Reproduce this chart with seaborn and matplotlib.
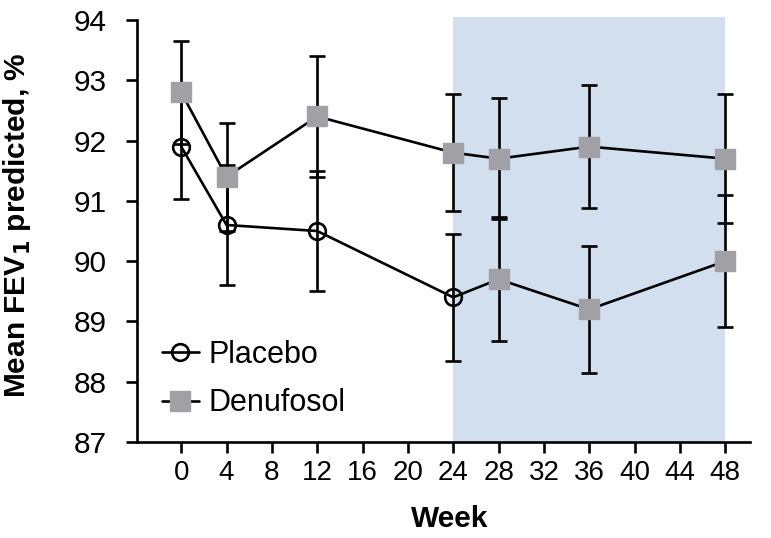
import matplotlib
matplotlib.use("Agg")
import matplotlib.pyplot as plt
import seaborn as sns
from matplotlib.lines import Line2D

weeks = [0, 4, 12, 24, 28, 36, 48]
denufosol_mean = [92.8, 91.4, 92.4, 91.8, 91.7, 91.9, 91.7]
denufosol_err = [0.85, 0.9, 1.0, 0.97, 1.0, 1.02, 1.07]
placebo_mean = [91.9, 90.6, 90.5, 89.4, 89.7, 89.2, 90.0]
placebo_err = [0.87, 1.0, 1.0, 1.05, 1.03, 1.05, 1.1]
# placebo arm switched to open-label denufosol after week 24
placebo_switch_week = 24
open_label = (24, 48)

sns.set_style("ticks")
plt.rcParams['font.family'] = ['Liberation Sans', 'DejaVu Sans']
plt.rcParams.update({'text.color': 'black', 'axes.labelcolor': 'black',
                     'xtick.color': 'black', 'ytick.color': 'black'})

grey = '#a1a1a5'
fig = plt.figure(figsize=(7.71, 5.38), dpi=100)
ax = fig.add_axes([0.1777, 0.1784, 0.7953, 0.7844])

ax.axvspan(open_label[0], open_label[1], ymin=0, ymax=1.006, color='#d1dfef', zorder=0, clip_on=False, lw=0)

sns.lineplot(x=weeks, y=denufosol_mean, color='black', linewidth=1.9, ax=ax, zorder=2)
sns.lineplot(x=weeks, y=placebo_mean, color='black', linewidth=1.9, ax=ax, zorder=2)

ax.errorbar(weeks, denufosol_mean, yerr=denufosol_err, fmt='none', ecolor='black',
            elinewidth=1.9, capsize=6, capthick=1.9, zorder=3)
ax.errorbar(weeks, placebo_mean, yerr=placebo_err, fmt='none', ecolor='black',
            elinewidth=1.9, capsize=6, capthick=1.9, zorder=3)

pre_w = [w for w in weeks if w <= placebo_switch_week]
pre_v = [v for w, v in zip(weeks, placebo_mean) if w <= placebo_switch_week]
post_w = [w for w in weeks if w > placebo_switch_week]
post_v = [v for w, v in zip(weeks, placebo_mean) if w > placebo_switch_week]

ax.plot(weeks, denufosol_mean, 's', ms=14.5, mfc=grey, mec=grey, zorder=4)
ax.plot(post_w, post_v, 's', ms=14.5, mfc=grey, mec=grey, zorder=4)
ax.plot(pre_w, pre_v, 'o', ms=12, mfc='none', mec='black', mew=1.9, zorder=4)

ax.set_xlim(-3.9, 50.2)
ax.set_ylim(87, 94)
ax.set_xticks(range(0, 49, 4))
ax.set_yticks(range(87, 95))
ax.tick_params(axis='x', labelsize=20, length=8, width=1.9, color='black', labelcolor='black', pad=5)
ax.tick_params(axis='y', labelsize=21.5, length=8, width=1.9, color='black', labelcolor='black', pad=14)
for s in ['top', 'right']:
    ax.spines[s].set_visible(False)
for s in ['left', 'bottom']:
    ax.spines[s].set_color('black')
    ax.spines[s].set_linewidth(1.9)

ax.set_xlabel('Week', fontsize=21.5, fontweight='bold', color='black')
ax.set_ylabel('Mean FEV$_\\mathbf{1}$ predicted, %', fontsize=21.5, fontweight='bold', color='black')
ax.xaxis.set_label_coords(0.51, -0.15)
ax.yaxis.set_label_coords(-0.17, 0.513)

handles = [
    Line2D([], [], color='black', lw=1.9, marker='o', ms=12, mfc='none', mec='black', mew=1.9),
    Line2D([], [], color='black', lw=1.9, marker='s', ms=14.5, mfc=grey, mec=grey),
]
ax.legend(handles, ['Placebo', 'Denufosol'], loc='lower left', bbox_to_anchor=(0.041, 0.056),
          frameon=False, fontsize=22, handlelength=1.2, handletextpad=0.33, labelspacing=0.6,
          borderaxespad=0, borderpad=0, labelcolor='black')

fig.savefig('out.png', dpi=100)
